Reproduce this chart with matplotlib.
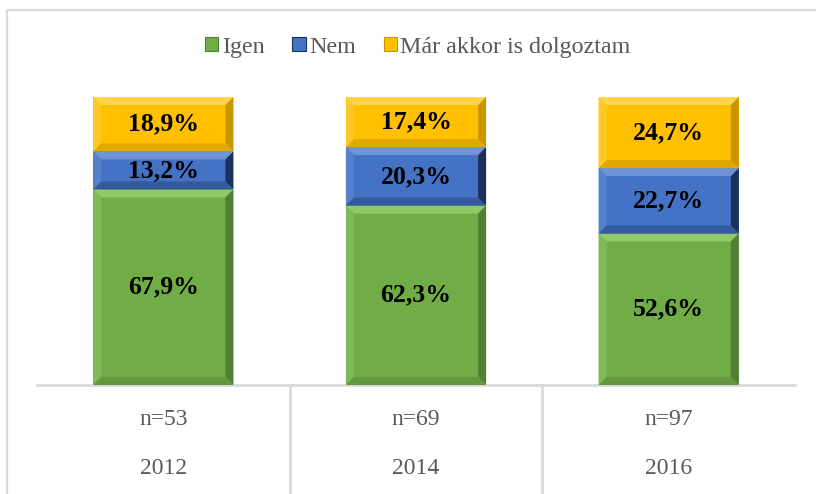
import matplotlib
matplotlib.use("Agg")
import matplotlib.pyplot as plt
from matplotlib.patches import Polygon, Patch
from matplotlib.lines import Line2D
import numpy as np

years = ["2012", "2014", "2016"]
n_labels = ["n=53", "n=69", "n=97"]
series_names = ["Igen", "Nem", "Már akkor is dolgoztam"]
igen = [67.9, 62.3, 52.6]
nem = [13.2, 20.3, 22.7]
mar = [18.9, 17.4, 24.7]

plt.rcParams['font.family'] = ['Liberation Serif', 'DejaVu Serif']

W, H = 816, 494
fig = plt.figure(figsize=(W / 100, H / 100), dpi=100)
ax_left, ax_right, ax_top, ax_bot = 37, 795, 97, 385
ax = fig.add_axes([ax_left / W, 1 - ax_bot / H, (ax_right - ax_left) / W, (ax_bot - ax_top) / H])

# colour sets: face, top, left, right, bottom
palettes = [
    ("#70AD47", "#8FCA66", "#7EBA55", "#527F33", "#64983F"),
    ("#4472C4", "#6F95D8", "#5580CE", "#1C3159", "#34599C"),
    ("#FFC000", "#FFD54A", "#FFC925", "#C99600", "#E0A800"),
]

x = np.arange(len(years))
width = 0.555
bottoms = np.zeros(len(years))
containers = []
for vals, pal, name in zip([igen, nem, mar], palettes, series_names):
    c = ax.bar(x, vals, width, bottom=bottoms, color=pal[0], linewidth=0, label=name, zorder=2)
    containers.append((c, pal))
    bottoms = bottoms + np.array(vals)

ax.set_xlim(-0.5, len(years) - 0.5)
ax.set_ylim(0, 100)

# bevel in pixel units -> data units
px_x = (len(years)) / (ax_right - ax_left)
px_y = 100 / (ax_bot - ax_top)
bev = 8
bx, by = bev * px_x, bev * px_y
for c, pal in containers:
    for r in c.patches:
        x0, y0 = r.get_x(), r.get_y()
        x1, y1 = x0 + r.get_width(), y0 + r.get_height()
        top = [(x0, y1), (x1, y1), (x1 - bx, y1 - by), (x0 + bx, y1 - by)]
        bot = [(x0, y0), (x1, y0), (x1 - bx, y0 + by), (x0 + bx, y0 + by)]
        left = [(x0, y0), (x0, y1), (x0 + bx, y1 - by), (x0 + bx, y0 + by)]
        right = [(x1, y0), (x1, y1), (x1 - bx, y1 - by), (x1 - bx, y0 + by)]
        for poly, col in [(top, pal[1]), (left, pal[2]), (right, pal[3]), (bot, pal[4])]:
            ax.add_patch(Polygon(poly, closed=True, facecolor=col, edgecolor='none', zorder=3))

for c, pal in containers:
    labels = [f"{v:.1f}".replace(".", ",") + "%" for v in c.datavalues]
    ax.bar_label(c, labels=labels, label_type='center', fontsize=18.5, fontweight='bold',
                 color='black', zorder=5)

for s in ['top', 'right', 'left']:
    ax.spines[s].set_visible(False)
ax.spines['bottom'].set_color('#D9D9D9')
ax.spines['bottom'].set_linewidth(2)
ax.set_yticks([])
ax.set_xticks(x)
ax.set_xticklabels(n_labels, fontsize=17, color='#595959')
ax.tick_params(axis='x', length=0, pad=17)
for xi, yr in zip(x, years):
    ax.text(xi, -(468 - ax_bot) / (ax_bot - ax_top), yr, transform=ax.get_xaxis_transform(),
            ha='center', va='center', fontsize=17, color='#595959')

# separators between categories
for xs in x[:-1] + 0.5:
    ax.plot([xs, xs], [0, -(H - ax_bot) / (ax_bot - ax_top)], transform=ax.get_xaxis_transform(),
            color='#D9D9D9', lw=2, clip_on=False)

# outer frame
fig.add_artist(Line2D([7 / W, 7 / W, 1.0], [0, 1 - 10 / H, 1 - 10 / H], color='#D9D9D9', lw=1.6,
                      transform=fig.transFigure))

handles = [Patch(facecolor=p[0], edgecolor=p[3], linewidth=0.8) for p in palettes]
fig.legend(handles, series_names, loc='center', bbox_to_anchor=(418 / W, 1 - 47 / H), ncol=3,
           frameon=False, fontsize=17.3, labelcolor='#595959', handlelength=0.55, handleheight=0.55,
           handletextpad=0.15, columnspacing=1.15)

fig.savefig("out.png", dpi=100)
